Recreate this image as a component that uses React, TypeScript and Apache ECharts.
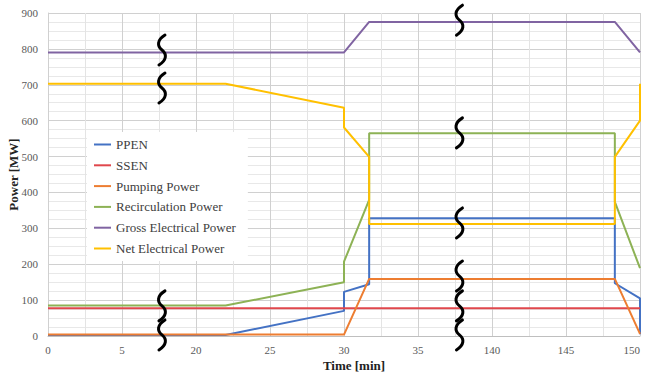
import React, { useEffect, useRef } from "react";
import * as echarts from "echarts";

// ---- data (real time in minutes, power in MW) ----
const seriesNames = [
  "PPEN",
  "SSEN",
  "Pumping Power",
  "Recirculation Power",
  "Gross Electrical Power",
  "Net Electrical Power",
];
const seriesColors = ["#4472C4", "#E0474C", "#ED7D31", "#8DB255", "#8064A2", "#FFC000"];

const ppenTime = [0, 22, 30, 30, 31.7, 31.7, 148.3, 148.3, 150, 150];
const ppenValues = [3, 3, 70, 123, 144, 328, 328, 147, 105, 5];

const ssenTime = [0, 150];
const ssenValues = [77, 77];

const pumpTime = [0, 30, 31.7, 148.3, 150];
const pumpValues = [4, 4, 159, 159, 6];

const recircTime = [0, 22, 30, 30, 31.7, 31.7, 148.3, 148.3, 150];
const recircValues = [85, 85, 150, 207, 379, 565, 565, 374, 189];

const grossTime = [0, 30, 31.7, 148.3, 150];
const grossValues = [790, 790, 875, 875, 790];

const netTime = [0, 22, 30, 30, 31.7, 31.7, 148.3, 148.3, 150, 150];
const netValues = [703, 703, 636, 581, 499, 312, 312, 499, 600, 703];

// axis break markers: [position on broken axis, power level]
const breakMarks = [
  [7.7, 797], [7.7, 691], [7.7, 84], [7.7, 3],
  [27.8, 880], [27.8, 566], [27.8, 315], [27.8, 167], [27.8, 84], [27.8, 3],
];

// broken time axis: 0-5 | 20-35 | 140-150
const toAxis = (t: number) => (t <= 5 ? t : t <= 35 ? t - 10 : t - 110);
const fromAxis = (v: number) => (v <= 5 ? v : v <= 25 ? v + 10 : v + 110);

const allTimes = [ppenTime, ssenTime, pumpTime, recircTime, grossTime, netTime];
const allValues = [ppenValues, ssenValues, pumpValues, recircValues, grossValues, netValues];

const SERIF = "Liberation Serif";
const SQUIGGLE = "M3,-15 C-5,-10 -5,-4 0,0 C5,4 5,10 -3,15";

export default function App() {
  const ref = useRef<HTMLDivElement>(null);
  useEffect(() => {
    if (!ref.current) return;
    const chart = echarts.init(ref.current, undefined, { renderer: "svg" });
    const lineSeries = seriesNames.map((name, i) => ({
      name,
      type: "line",
      data: allTimes[i].map((t, j) => [toAxis(t), allValues[i][j]]),
      showSymbol: false,
      symbol: "none",
      color: seriesColors[i],
      lineStyle: { width: 2, color: seriesColors[i] },
      z: 3,
    }));
    chart.setOption({
      animation: false,
      textStyle: { fontFamily: SERIF },
      grid: {
        left: 48,
        right: 6,
        top: 13,
        bottom: 40,
        containLabel: false,
        outerBoundsMode: "none",
      },
      legend: {
        data: seriesNames,
        orient: "vertical",
        left: 87,
        top: 132,
        icon: "rect",
        itemWidth: 17,
        itemHeight: 2,
        itemGap: 7.8,
        backgroundColor: "#ffffff",
        padding: [6, 12, 6, 7],
        textStyle: { fontFamily: SERIF, fontSize: 13, color: "#404040", lineHeight: 12 },
      },
      xAxis: {
        type: "value",
        min: 0,
        max: 40,
        interval: 5,
        name: "Time [min]",
        nameLocation: "middle",
        nameGap: 23,
        nameMoveOverlap: false,
        nameTextStyle: {
          fontFamily: SERIF,
          fontSize: 13,
          fontWeight: "bold",
          color: "#222",
          padding: [0, 0, 0, 20],
        },
        axisLabel: {
          formatter: (v: number) => String(fromAxis(v)),
          fontFamily: SERIF,
          fontSize: 11,
          color: "#595959",
          margin: 8,
          alignMaxLabel: "right",
        },
        axisTick: { show: false },
        axisLine: { show: true, lineStyle: { color: "#bfbfbf" } },
        splitLine: { show: true, lineStyle: { color: "#d0d0d0" } },
        minorTick: { show: false, splitNumber: 2 },
        minorSplitLine: { show: true, lineStyle: { color: "#e4e4e4" } },
      },
      yAxis: {
        type: "value",
        min: 0,
        max: 900,
        interval: 100,
        name: "Power [MW]",
        nameLocation: "middle",
        nameGap: 28,
        nameMoveOverlap: false,
        nameTextStyle: { fontFamily: SERIF, fontSize: 13, fontWeight: "bold", color: "#222" },
        axisLabel: { fontFamily: SERIF, fontSize: 11, color: "#595959", margin: 10 },
        axisTick: { show: false },
        axisLine: { show: true, lineStyle: { color: "#d0d0d0" } },
        splitLine: { show: true, lineStyle: { color: "#d0d0d0" } },
        minorTick: { show: false, splitNumber: 4 },
        minorSplitLine: { show: true, lineStyle: { color: "#e8e8e8" } },
      },
      series: [
        ...lineSeries,
        {
          name: "breaks",
          type: "custom",
          data: breakMarks,
          silent: true,
          clip: false,
          z: 10,
          renderItem: (_params: any, api: any) => {
            const p = api.coord([api.value(0), api.value(1)]);
            return {
              type: "path",
              x: p[0],
              y: p[1],
              shape: { pathData: SQUIGGLE },
              style: { fill: "none", stroke: "#000", lineWidth: 3, lineCap: "round" },
            };
          },
        },
      ],
    });
    return () => chart.dispose();
  }, []);
  return (
    <div
      ref={ref}
      style={{ position: "fixed", left: 0, top: 0, width: 646, height: 376, background: "#fff" }}
    />
  );
}
